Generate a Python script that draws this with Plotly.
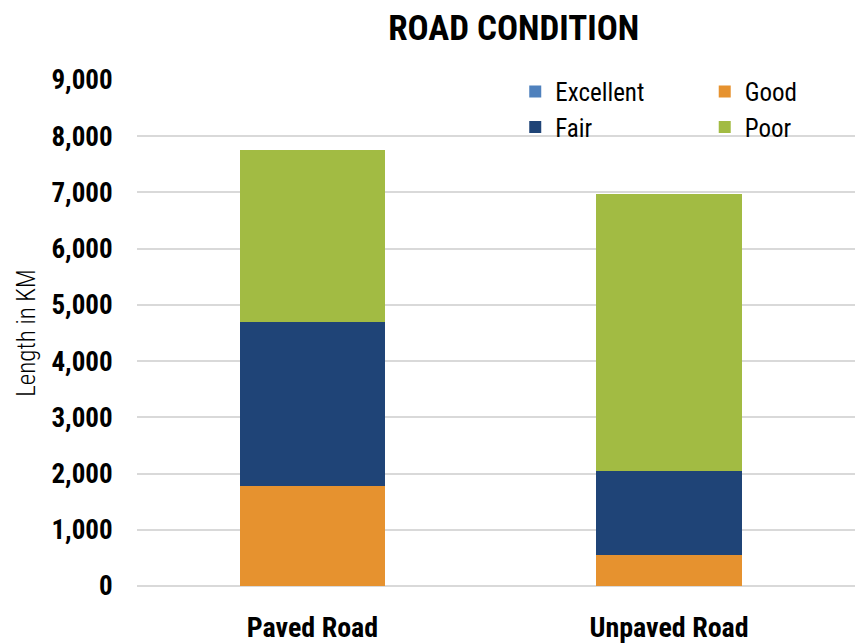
import plotly.graph_objects as go

categories = ["Paved Road", "Unpaved Road"]
series_names = ["Excellent", "Good", "Fair", "Poor"]
excellent = [0, 0]
good = [1780, 560]
fair = [2910, 1480]
poor = [3060, 4930]
colors = {"Excellent": "#4f81bd", "Good": "#e6922f", "Fair": "#1f4477", "Poor": "#a2bb43"}
legend_of = {"Excellent": "legend", "Fair": "legend", "Good": "legend2", "Poor": "legend2"}
values = {"Excellent": excellent, "Good": good, "Fair": fair, "Poor": poor}
y_ticks = [0, 1000, 2000, 3000, 4000, 5000, 6000, 7000, 8000, 9000]

FONT = "Roboto Condensed, Roboto, sans-serif"

fig = go.Figure()
for name in series_names:
    fig.add_trace(go.Bar(
        x=categories, y=values[name], name=name,
        marker=dict(color=colors[name], line=dict(width=0)),
        width=0.407, legend=legend_of[name],
    ))

leg_common = dict(yanchor="top", orientation="v", traceorder="normal",
                  bgcolor="rgba(0,0,0,0)", font=dict(size=25, family=FONT, color="#000000"),
                  tracegroupgap=0, itemwidth=30)

fig.update_layout(
    width=863, height=644,
    barmode="stack",
    paper_bgcolor="white", plot_bgcolor="white",
    margin=dict(l=129, r=8, t=72, b=61),
    font=dict(family=FONT, color="#000000"),
    title=dict(text="<b>ROAD CONDITION</b>", x=0.586, xanchor="center", y=0.970, yanchor="middle",
               font=dict(size=35, family=FONT, color="#000000")),
    xaxis=dict(range=[-0.492, 1.544], showgrid=False, showline=False, zeroline=False,
               ticks="outside", ticklen=16, tickcolor="rgba(0,0,0,0)",
               tickfont=dict(size=28, family=FONT, color="#000000"),
               tickvals=categories, ticktext=["<b>%s</b>" % c for c in categories]),
    yaxis=dict(range=[0, 9000], tickvals=y_ticks,
               ticktext=["<b>{:,}</b>".format(v) for v in y_ticks],
               showgrid=True, gridcolor="#d9d9d9", gridwidth=1.5,
               zeroline=True, zerolinecolor="#d9d9d9", zerolinewidth=1.5,
               ticks="outside", ticklen=18, tickcolor="rgba(0,0,0,0)",
               tickfont=dict(size=27, family=FONT, color="#000000"),
               title=dict(text="Length in KM", font=dict(size=25, family=FONT, color="#000000", weight=300),
                          standoff=8)),
    legend=dict(x=0.521, y=1.022, xanchor="left", **leg_common),
    legend2=dict(x=0.782, y=1.022, xanchor="left", **leg_common),
    showlegend=True,
)

fig.write_html("out.html")
